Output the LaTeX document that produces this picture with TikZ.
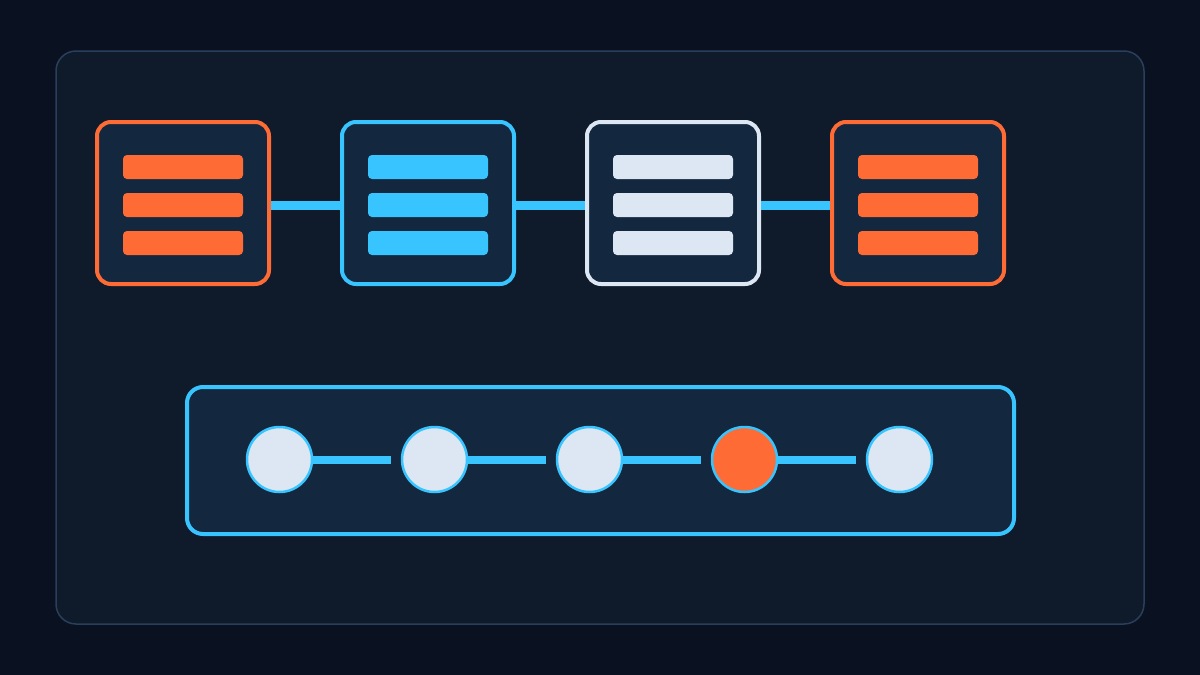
\documentclass[tikz,border=0pt]{standalone}
\begin{document}
\definecolor{bgc}{HTML}{0A1120}
\definecolor{panelc}{HTML}{0F1A2B}
\definecolor{panelstroke}{HTML}{2A3F5C}
\definecolor{boxfill}{HTML}{13273F}
\definecolor{orangec}{HTML}{FF6B35}
\definecolor{bluec}{HTML}{38C4FF}
\definecolor{lightc}{HTML}{DCE7F3}
\begin{tikzpicture}[x=1pt,y=-1pt,
  stagebox/.style={draw=#1, fill=boxfill, line width=4pt, rounded corners=14pt,
    minimum width=172pt, minimum height=162pt, inner sep=0pt},
  bar/.style={fill=#1, rounded corners=4pt, minimum width=120pt, minimum height=24pt, inner sep=0pt, outer sep=0pt},
  link/.style={draw=bluec, line width=9pt},
  dot/.style={circle, draw=bluec, fill=#1, line width=2.5pt, minimum size=65pt, inner sep=0pt},
  dotlink/.style={draw=bluec, line width=8pt}]
\useasboundingbox (0,0) rectangle (1200,675);
\fill[bgc] (0,0) rectangle (1200,675);
\draw[panelstroke, fill=panelc, line width=1.5pt, rounded corners=20pt] (56,51) rectangle (1144,624);

% stage boxes
\foreach \i/\c in {1/orangec,2/bluec,3/lightc,4/orangec}{
  \node[stagebox=\c] (b\i) at ({183+245*(\i-1)},203) {};
  \node[bar=\c] (b\i r1) at ({183+245*(\i-1)},167) {};
  \node[bar=\c] (b\i r2) at ({183+245*(\i-1)},205) {};
  \node[bar=\c] (b\i r3) at ({183+245*(\i-1)},243) {};
}
\draw[link] (b1.east |- 0,205.5) -- (b2.west |- 0,205.5);
\draw[link] (b2.east |- 0,205.5) -- (b3.west |- 0,205.5);
\draw[link] (b3.east |- 0,205.5) -- (b4.west |- 0,205.5);

% bottom track
\node[draw=bluec, fill=boxfill, line width=4pt, rounded corners=16pt,
  minimum width=827pt, minimum height=147pt, inner sep=0pt] (track) at (600.5,460.5) {};
\foreach \i/\c in {1/lightc,2/lightc,3/lightc,4/orangec,5/lightc}{
  \node[dot=\c] (c\i) at ({279.5+155*(\i-1)},459.5) {};
}
\foreach \a/\b in {1/2,2/3,3/4,4/5}{
  \draw[dotlink] (c\a.east) -- ([xshift=-10pt]c\b.west);
}
\end{tikzpicture}
\end{document}
